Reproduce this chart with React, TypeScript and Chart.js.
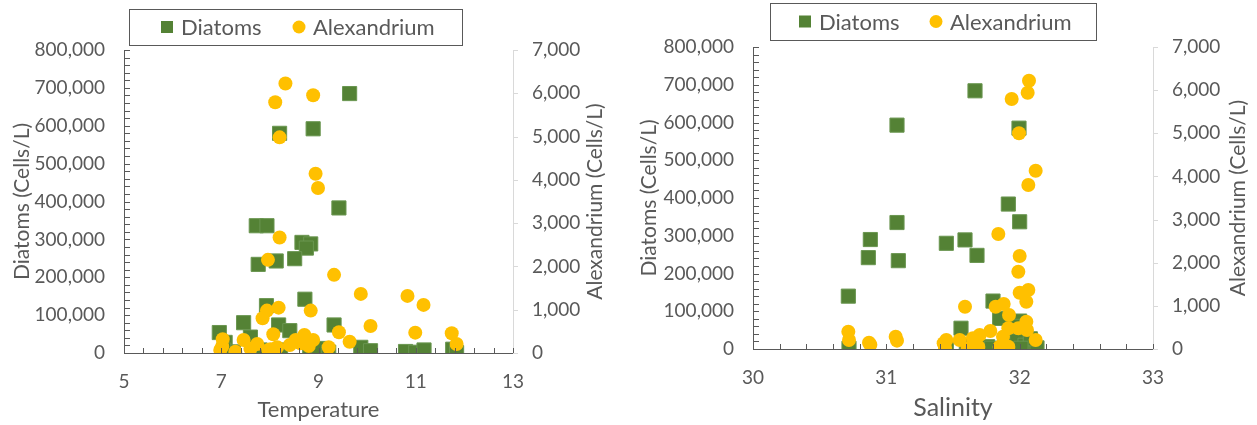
import React, { useEffect, useRef } from 'react';
import { Chart, registerables } from 'chart.js';

Chart.register(...registerables);

// ---------- DATA ----------
const seriesNames = ['Diatoms', 'Alexandrium'];
const axisTitles = { diatoms: 'Diatoms (Cells/L)', alex: 'Alexandrium (Cells/L)', temp: 'Temperature', sal: 'Salinity' };

const tempTicks = [5, 7, 9, 11, 13];
const salTicks = [30, 31, 32, 33];

// Temperature panel
const tempDiatomsX = [9.64, 8.2, 8.89, 9.42, 7.72, 7.94, 8.66, 8.84, 8.75, 8.51, 7.76, 8.13, 7.93, 8.72, 7.46, 6.96, 9.32, 8.18, 8.41, 7.6, 7.08, 9.87, 10.07, 7.8, 8.01, 8.22, 8.82, 9.01, 9.21, 7.25, 10.79, 11.0, 11.17, 11.76, 11.84, 7.05, 7.87];
const tempDiatomsY = [685000, 580000, 592000, 383000, 336000, 336000, 292000, 288000, 277000, 249000, 234000, 243000, 125000, 142000, 80000, 54000, 74000, 74000, 59000, 42000, 28000, 15000, 6000, 8000, 3000, 8000, 2000, 12000, 2000, 3000, 4000, 2000, 8000, 10000, 1000, 8000, 3000];
const tempAlexX = [8.32, 8.11, 8.89, 8.2, 8.94, 8.99, 8.2, 7.96, 9.32, 9.87, 10.07, 8.18, 8.84, 7.94, 7.85, 9.42, 9.64, 8.07, 7.46, 7.03, 7.74, 7.6, 6.98, 7.29, 8.01, 8.15, 8.41, 8.53, 8.71, 8.63, 8.89, 8.8, 9.21, 10.83, 11.16, 10.99, 11.74, 11.84, 7.02, 7.97];
const tempAlexY = [6225, 5792, 5954, 4982, 4142, 3811, 2668, 2152, 1805, 1365, 625, 1048, 979, 979, 803, 479, 261, 433, 301, 317, 208, 100, 69, 30, 86, 132, 185, 301, 417, 224, 301, 162, 132, 1319, 1111, 470, 456, 208, 150, 69];

// Salinity panel
const salDiatomsX = [30.715, 30.72, 30.88, 30.865, 31.08, 31.08, 31.09, 31.665, 31.45, 31.59, 31.68, 31.56, 31.45, 31.6, 31.995, 31.915, 32.0, 31.8, 31.85, 32.0, 31.93, 31.63, 31.7, 31.76, 31.89, 31.98, 32.04, 32.13, 32.08, 31.79, 32.01, 31.95];
const salDiatomsY = [140000, 2000, 290000, 242000, 593000, 335000, 234000, 684000, 280000, 289000, 248000, 55000, 2000, 8000, 585000, 384000, 337000, 127000, 81000, 74000, 42000, 3000, 3000, 6000, 18000, 21000, 10000, 3000, 27000, 2000, 2000, 60000];
const salAlexX = [32.07, 32.06, 31.94, 31.995, 32.12, 32.065, 31.84, 32.0, 31.99, 32.0, 32.065, 32.05, 31.59, 31.82, 31.88, 31.92, 32.05, 31.78, 31.915, 31.99, 32.055, 32.12, 31.45, 31.55, 31.65, 31.7, 31.61, 31.69, 31.85, 31.915, 31.875, 31.43, 30.715, 30.72, 30.87, 30.88, 31.07, 31.08, 31.44];
const salAlexY = [6219, 5941, 5795, 5000, 4133, 3801, 2666, 2156, 1792, 1305, 1368, 1096, 980, 980, 1043, 788, 633, 417, 480, 480, 440, 209, 209, 209, 248, 325, 16, 53, 53, 53, 286, 132, 401, 209, 146, 100, 286, 193, 30];

// ---------- STYLE ----------
const GREEN = '#548235';
const YELLOW = '#ffc000';
const TEXT = '#595959';
const FONT = 'Lato, "Open Sans", "Noto Sans", sans-serif';

const zip = (xs: number[], ys: number[]) => xs.map((x, i) => ({ x, y: ys[i] }));
const fmt = (v: number) => Number(v).toLocaleString('en-US');

const excelTicks = {
  id: 'excelTicks',
  afterDraw(chart: any, _args: any, opts: any) {
    const { ctx, chartArea } = chart;
    const xs = chart.scales.x, ys = chart.scales.y, y1 = chart.scales.y1;
    ctx.save();
    ctx.lineWidth = 1;
    ctx.strokeStyle = '#595959';
    const nY = Math.round(ys.max / opts.yMinor);
    for (let i = 0; i <= nY; i++) {
      const py = Math.round(ys.getPixelForValue(i * opts.yMinor)) + 0.5;
      ctx.beginPath();
      ctx.moveTo(chartArea.left, py);
      ctx.lineTo(chartArea.left + 6, py);
      ctx.stroke();
    }
    const nX = Math.round((xs.max - xs.min) / opts.xMinor);
    for (let i = 0; i <= nX; i++) {
      const px = Math.round(xs.getPixelForValue(xs.min + i * opts.xMinor)) + 0.5;
      ctx.beginPath();
      ctx.moveTo(px, chartArea.bottom);
      ctx.lineTo(px, chartArea.bottom - 5);
      ctx.stroke();
    }
    ctx.strokeStyle = '#d9d9d9';
    const nR = Math.round(y1.max / 1000);
    for (let i = 0; i <= nR; i++) {
      const py = Math.round(y1.getPixelForValue(i * 1000)) + 0.5;
      ctx.beginPath();
      ctx.moveTo(chartArea.right, py);
      ctx.lineTo(chartArea.right + 5, py);
      ctx.stroke();
    }
    // right axis title, reading bottom-to-top like the left one
    ctx.save();
    ctx.fillStyle = TEXT;
    ctx.font = `${opts.titleSize}px ${FONT}`;
    ctx.textAlign = 'center';
    ctx.textBaseline = 'middle';
    ctx.translate(chart.width - opts.rightTitleOffset, (chartArea.top + chartArea.bottom) / 2);
    ctx.rotate(-Math.PI / 2);
    ctx.fillText(opts.rightTitle, 0, 0);
    ctx.restore();
    ctx.restore();
  },
};

const boxLegend = {
  id: 'boxLegend',
  afterDraw(chart: any, _args: any, opts: any) {
    const { ctx } = chart;
    const b = opts.box;
    ctx.save();
    ctx.fillStyle = '#ffffff';
    ctx.fillRect(b.x, b.y, b.w, b.h);
    ctx.strokeStyle = '#595959';
    ctx.lineWidth = 1;
    ctx.strokeRect(b.x + 0.5, b.y + 0.5, b.w, b.h);
    const cy = b.y + b.h / 2;
    ctx.font = `${opts.fontSize}px ${FONT}`;
    ctx.textBaseline = 'middle';
    ctx.textAlign = 'left';
    chart.data.datasets.forEach((ds: any, i: number) => {
      const mx = opts.items[i];
      ctx.fillStyle = ds.backgroundColor;
      if (ds.pointStyle === 'rect') {
        ctx.fillRect(mx - 6, cy - 6, 12, 12);
      } else {
        ctx.beginPath();
        ctx.arc(mx, cy, 6.5, 0, Math.PI * 2);
        ctx.fill();
      }
      ctx.fillStyle = TEXT;
      ctx.fillText(ds.label, mx + 14, cy + 1);
    });
    ctx.restore();
  },
};

type PanelCfg = {
  left: number;
  width: number;
  height: number;
  xMin: number;
  xMax: number;
  xStep: number;
  xMinor: number;
  xTitle: string;
  xTitleSize: number;
  xTitlePad: number;
  diaX: number[];
  diaY: number[];
  alexX: number[];
  alexY: number[];
  top: number;
  yWidth: number;
  y1Width: number;
  xHeight: number;
  yTitlePad: number;
  rightTitleOffset: number;
  box: { x: number; y: number; w: number; h: number };
  items: number[];
};

function Panel({ cfg }: { cfg: PanelCfg }) {
  const ref = useRef<HTMLCanvasElement | null>(null);
  useEffect(() => {
    if (!ref.current) return;
    Chart.defaults.font.family = FONT;
    const chart = new Chart(ref.current, {
      type: 'scatter',
      data: {
        datasets: [
          {
            label: seriesNames[0],
            data: zip(cfg.diaX, cfg.diaY),
            yAxisID: 'y',
            pointStyle: 'rect',
            pointRadius: 10,
            pointHoverRadius: 10,
            backgroundColor: GREEN,
            borderColor: '#6a9650',
            borderWidth: 1,
            order: 2,
          },
          {
            label: seriesNames[1],
            data: zip(cfg.alexX, cfg.alexY),
            yAxisID: 'y1',
            pointStyle: 'circle',
            pointRadius: 7,
            pointHoverRadius: 7,
            backgroundColor: YELLOW,
            borderColor: YELLOW,
            borderWidth: 0,
            order: 1,
          },
        ] as any,
      },
      options: {
        responsive: false,
        animation: false,
        layout: { padding: { top: cfg.top, left: 0, right: 0, bottom: 0 } },
        plugins: {
          legend: { display: false },
          tooltip: { enabled: false },
          excelTicks: {
            yMinor: 20000,
            xMinor: cfg.xMinor,
            rightTitle: axisTitles.alex,
            rightTitleOffset: cfg.rightTitleOffset,
            titleSize: 21,
          },
          boxLegend: { box: cfg.box, items: cfg.items, fontSize: 22 },
        } as any,
        scales: {
          x: {
            type: 'linear',
            min: cfg.xMin,
            max: cfg.xMax,
            afterFit: (s: any) => { s.height = cfg.xHeight; },
            ticks: { stepSize: cfg.xStep, color: TEXT, font: { size: 19 }, padding: 17 },
            grid: { display: false, drawTicks: false },
            border: { display: true, color: '#595959', width: 1 },
            title: { display: true, text: cfg.xTitle, color: TEXT, font: { size: cfg.xTitleSize }, padding: cfg.xTitlePad },
          },
          y: {
            position: 'left',
            min: 0,
            max: 800000,
            afterFit: (s: any) => { s.width = cfg.yWidth; },
            ticks: { stepSize: 100000, color: TEXT, font: { size: 19 }, padding: 19, callback: (v: any) => fmt(v) },
            grid: { display: false, drawTicks: false },
            border: { display: true, color: '#595959', width: 1 },
            title: { display: true, text: axisTitles.diatoms, color: TEXT, font: { size: 21 }, padding: cfg.yTitlePad },
          },
          y1: {
            position: 'right',
            min: 0,
            max: 7000,
            afterFit: (s: any) => { s.width = cfg.y1Width; },
            ticks: { stepSize: 1000, color: TEXT, font: { size: 19 }, padding: 19, callback: (v: any) => fmt(v) },
            grid: { display: false, drawTicks: false },
            border: { display: true, color: '#d9d9d9', width: 1 },
            title: { display: false },
          },
        } as any,
      },
      plugins: [excelTicks, boxLegend],
    });
    return () => chart.destroy();
  }, [cfg]);
  return (
    <canvas
      ref={ref}
      width={cfg.width}
      height={cfg.height}
      style={{ position: 'absolute', left: cfg.left, top: 0, width: cfg.width, height: cfg.height }}
    />
  );
}

const tempCfg: PanelCfg = {
  left: 0, width: 620, height: 425,
  xMin: tempTicks[0], xMax: tempTicks[tempTicks.length - 1], xStep: 2, xMinor: 0.4,
  xTitle: axisTitles.temp, xTitleSize: 22, xTitlePad: 2,
  diaX: tempDiatomsX, diaY: tempDiatomsY, alexX: tempAlexX, alexY: tempAlexY,
  top: 50, yWidth: 124, y1Width: 107, xHeight: 72, yTitlePad: 10, rightTitleOffset: 25,
  box: { x: 129, y: 9, w: 333, h: 36 }, items: [167, 299],
};

const salCfg: PanelCfg = {
  left: 620, width: 637, height: 425,
  xMin: salTicks[0], xMax: salTicks[salTicks.length - 1], xStep: 1, xMinor: 0.2,
  xTitle: axisTitles.sal, xTitleSize: 25, xTitlePad: 2,
  diaX: salDiatomsX, diaY: salDiatomsY, alexX: salAlexX, alexY: salAlexY,
  top: 47, yWidth: 133, y1Width: 104, xHeight: 76, yTitlePad: 17, rightTitleOffset: 19,
  box: { x: 150, y: 3, w: 326, h: 37 }, items: [185, 316],
};

export default function App() {
  return (
    <div style={{ position: 'absolute', left: 0, top: 0, width: 1257, height: 425, background: '#fff' }}>
      <Panel cfg={tempCfg} />
      <Panel cfg={salCfg} />
    </div>
  );
}
